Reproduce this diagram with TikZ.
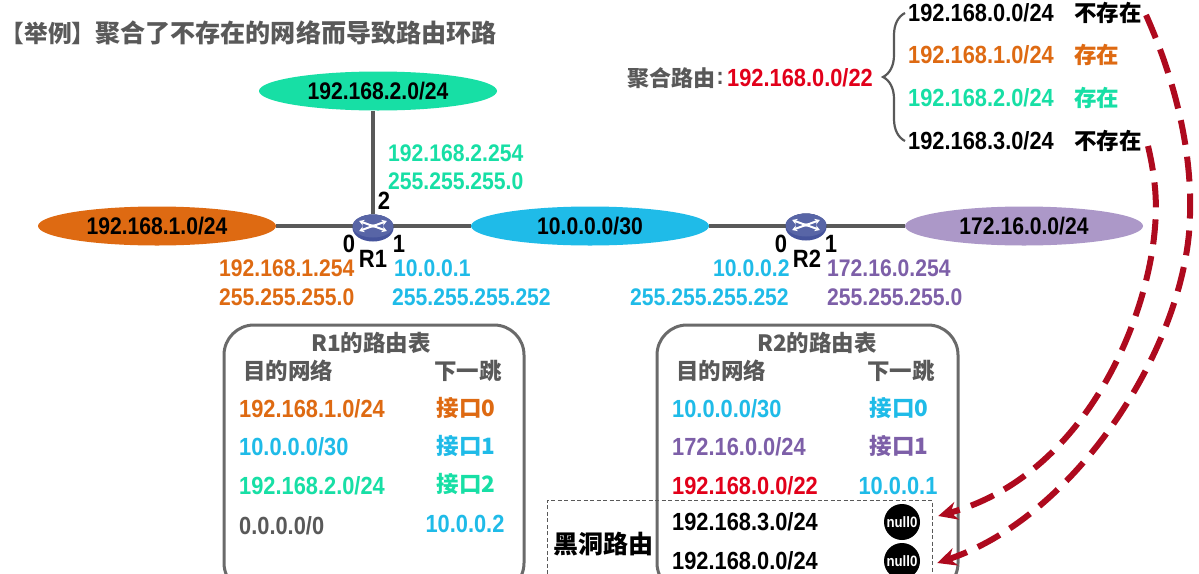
\documentclass[tikz,border=0pt]{standalone}
\usepackage{fontspec}
\setmainfont[FakeStretch=0.88]{Liberation Sans}
\newfontfamily\cjk{Noto Sans CJK SC}
\definecolor{netorange}{HTML}{DE6A12}
\definecolor{netgreen}{HTML}{17DFA5}
\definecolor{netblue}{HTML}{1FBBE8}
\definecolor{netpurple}{HTML}{AC98C8}
\definecolor{textpurple}{HTML}{7D5FA8}
\definecolor{warmgray}{HTML}{595959}
\definecolor{aggred}{HTML}{E2001A}
\definecolor{darkred}{HTML}{AE0A1E}
\definecolor{routerblue}{HTML}{46549C}
\usetikzlibrary{shapes.geometric,arrows.meta,positioning,calc,decorations.pathreplacing}
\tikzset{
  net/.style={ellipse,inner sep=0pt,minimum width=238pt,minimum height=39pt,font=\bfseries\fontsize{24}{28}\selectfont},
  ip/.style={anchor=west,inner sep=0pt,font=\bfseries\fontsize{24}{28}\selectfont},
  subnet/.style={anchor=west,inner sep=0pt,font=\bfseries\fontsize{24.8}{28}\selectfont},
  zh/.style={inner sep=0pt,font=\cjk\bfseries\fontsize{22.5}{26}\selectfont},
  port/.style={inner sep=0pt,font=\bfseries\fontsize{25}{28}\selectfont},
  router/.style={ellipse,fill=routerblue,inner sep=0pt,minimum width=41pt,minimum height=27pt},
  nullzero/.style={circle,fill=black,text=white,inner sep=0pt,minimum size=36pt,font=\bfseries\fontsize{15}{18}\selectfont},
  link/.style={warmgray,line width=3.5pt},
  rtable/.style={warmgray!90,line width=3pt,rounded corners=30pt},
  blackhole/.style={-{Stealth[length=19pt,width=18pt]},darkred,line width=6pt,dash pattern=on 25pt off 12pt}
}
\begin{document}
\begin{tikzpicture}[x=1pt,y=-1pt]
    \clip (0,0) rectangle (1199,573);
    \fill[white] (0,0) rectangle (1199,573);
    % title
    \node[anchor=west,inner sep=0pt,warmgray,font=\cjk\bfseries\fontsize{23.7}{28}\selectfont] (titleTag) at (0.5,33) {【举例】};
    \node[anchor=east,inner sep=0pt,warmgray,font=\cjk\bfseries\fontsize{25.1}{28}\selectfont] (title) at (497,33) {聚合了不存在的网络而导致路由环路};
    % networks
    \node[net,fill=netgreen] (netB) at (378,91) {192.168.2.0/24};
    \node[net,fill=netorange] (netA) at (157,226) {192.168.1.0/24};
    \node[net,fill=netblue] (netC) at (590,226) {10.0.0.0/30};
    \node[net,fill=netpurple] (netD) at (1024,226) {172.16.0.0/24};
    \node[router] (rOne) at (373,228) {};
    \node[router] (rTwo) at (806,227) {};
    \draw[link] (netA) -- (netA -| rOne);
    \draw[link] (rOne) -- (rOne |- netB.south);
    \draw[link] (netC -| rOne) -- (netC);
    \draw[link] (netC) -- (netC -| rTwo);
    \draw[link] (netD -| rTwo) -- (netD);
    % router icons
    \foreach \r in {rOne,rTwo} {
      \fill[routerblue!70!black] ($(\r)+(-20.5,0)$) arc (180:360:20.5 and 13.5) -- cycle;
      \fill[routerblue!90!white] ($(\r)+(0,-2)$) ellipse (20.5 and 11.5);
      \foreach \a in {30,150,210,330}
        \draw[white,line width=2pt,-{Stealth[length=5pt,width=6pt]}] ($(\r)+(0,-2)+(\a+180:2 and 1.5)$) -- ($(\r)+(0,-2)+(\a:16 and 10)$);
    }
    \node[port] (portBtwo) at (384,201) {2};
    \node[port] (portAzero) at (349,244) {0};
    \node[port] (portAone) at (399,244) {1};
    \node[port] (nameA) at (373,259) {R1};
    \node[port] (portCzero) at (781,244) {0};
    \node[port] (portCone) at (831,244) {1};
    \node[port] (nameB) at (807,259) {R2};
    % interface addresses
    \node[ip,netgreen] (ipB) at (388,153) {192.168.2.254};
    \node[ip,netgreen] (maskB) at (388,181) {255.255.255.0};
    \node[ip,netorange] (ipA) at (219,268) {192.168.1.254};
    \node[ip,netorange] (maskA) at (219,297) {255.255.255.0};
    \node[ip,netblue] (ipC) at (394,268) {10.0.0.1};
    \node[ip,netblue] (maskC) at (392,297) {255.255.255.252};
    \node[ip,netblue] (ipE) at (713,268) {10.0.0.2};
    \node[ip,netblue] (maskE) at (630,297) {255.255.255.252};
    \node[ip,textpurple] (ipD) at (827,268) {172.16.0.254};
    \node[ip,textpurple] (maskD) at (827,297) {255.255.255.0};
    % aggregate route
    \node[zh,anchor=west,warmgray,font=\cjk\bfseries\fontsize{22}{26}\selectfont] (aggLabel) at (627,78) {聚合路由};
    \node[ip,warmgray,right=1pt of aggLabel] (aggColon) {:};
    \node[subnet,aggred,anchor=east] (aggNet) at (873,78) {192.168.0.0/22};
    \node[subnet] (subA) at (908,13) {192.168.0.0/24};
    \node[subnet,netorange] (subB) at (908,55) {192.168.1.0/24};
    \node[subnet,netgreen] (subC) at (908,98) {192.168.2.0/24};
    \node[subnet] (subD) at (908,141) {192.168.3.0/24};
    \node[zh,anchor=west] (stateA) at (1074,13) {不存在};
    \node[zh,anchor=west,netorange] (stateB) at (1074,55) {存在};
    \node[zh,anchor=west,netgreen] (stateC) at (1074,98) {存在};
    \node[zh,anchor=west] (stateD) at (1074,141) {不存在};
    \coordinate (braceTop) at (905,13);
    \coordinate (braceBot) at (905,141);
    \draw[warmgray,line width=2.2pt,decorate,decoration={brace,amplitude=22pt,mirror}] (braceTop) -- (braceBot);
    % R1 table
    \draw[rtable] (224,325) rectangle (524,593);
    \node[zh,warmgray] (headA) at (371,343) {R1的路由表};
    \node[zh,warmgray] (destA) at (288,371) {目的网络};
    \node[zh,warmgray] (hopA) at (468,371) {下一跳};
    \node[subnet,netorange] (rowAa) at (239,409) {192.168.1.0/24};
    \node[subnet,netblue] (rowAb) at (239,447) {10.0.0.0/30};
    \node[subnet,netgreen] (rowAc) at (239,486) {192.168.2.0/24};
    \node[subnet,warmgray] (rowAd) at (239,526) {0.0.0.0/0};
    \node[zh,netorange] (hopAa) at (466,408) {接口0};
    \node[zh,netblue] (hopAb) at (466,446) {接口1};
    \node[zh,netgreen] (hopAc) at (466,484) {接口2};
    \node[subnet,anchor=center,netblue] (hopAd) at (465,524) {10.0.0.2};
    % R2 table
    \draw[rtable] (657,325) rectangle (958,593);
    \node[zh,warmgray] (headB) at (817,343) {R2的路由表};
    \node[zh,warmgray] (destB) at (721,371) {目的网络};
    \node[zh,warmgray] (hopB) at (901,371) {下一跳};
    \node[subnet,netblue] (rowBa) at (672,409) {10.0.0.0/30};
    \node[subnet,textpurple] (rowBb) at (672,447) {172.16.0.0/24};
    \node[subnet,aggred] (rowBc) at (672,486) {192.168.0.0/22};
    \node[subnet] (rowBd) at (672,522) {192.168.3.0/24};
    \node[subnet] (rowBe) at (672,561) {192.168.0.0/24};
    \node[zh,netblue] (hopBa) at (899,408) {接口0};
    \node[zh,textpurple] (hopBb) at (899,446) {接口1};
    \node[subnet,anchor=center,netblue] (hopBc) at (898,486) {10.0.0.1};
    \node[nullzero] (nullA) at (902,522) {null0};
    \node[nullzero] (nullB) at (902,561) {null0};
    % black hole routes
    \draw[warmgray,line width=1pt,dash pattern=on 4pt off 2.5pt] (547,600) -- (547,500) -- (932,500) -- (932,600);
    \node[zh,font=\cjk\bfseries\fontsize{25}{28}\selectfont] (holeLabel) at (603,544) {黑洞路由};
    \coordinate (arrowA) at (1146,15);
    \coordinate (arrowB) at (1148,146);
    \coordinate (tipA) at ($(nullB.east)+(17,2)$);
    \coordinate (tipB) at ($(nullA.east)+(18,-6)$);
    \draw[blackhole] (arrowA) .. controls (1175,80) and (1192,150) .. (1190,215) .. controls (1188,340) and (1080,515) .. (tipA);
    \draw[blackhole] (arrowB) .. controls (1156,180) and (1157,205) .. (1155,227) .. controls (1148,320) and (1085,475) .. (tipB);
\end{tikzpicture}
\end{document}
